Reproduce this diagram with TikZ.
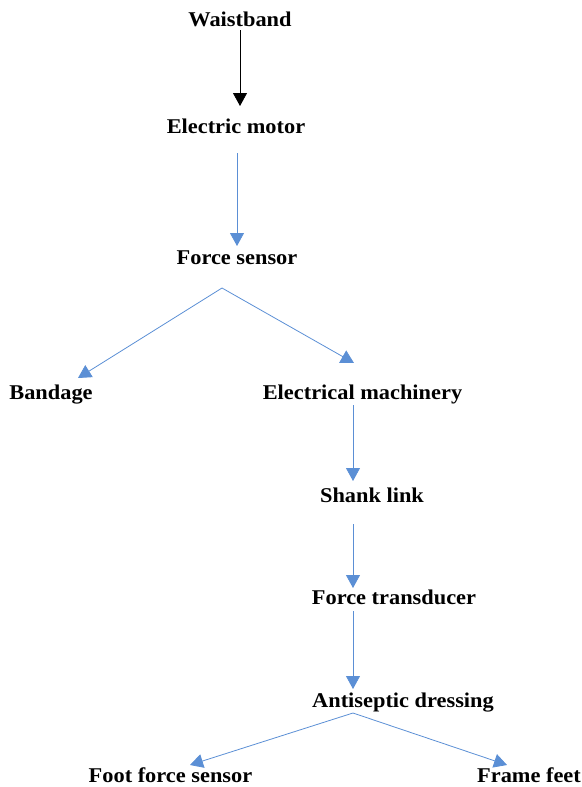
\documentclass[tikz,border=0pt]{standalone}
\usepackage{fontspec}
\setmainfont[FakeStretch=1.065]{Liberation Serif}
\usetikzlibrary{arrows.meta}
\definecolor{lineblue}{RGB}{91,143,213}
\begin{document}
\begin{tikzpicture}[x=1pt,y=-1pt,
  lbl/.style={font=\fontsize{21}{25}\selectfont\bfseries, anchor=base, inner sep=0pt},
  barr/.style={draw=lineblue, line width=0.8pt, -{Triangle[width=14pt,length=13pt]}},
  karr/.style={draw=black, line width=0.8pt, -{Triangle[width=14pt,length=13pt]}}]
\useasboundingbox (0,0) rectangle (581,787);
\node[lbl] (ws)  at (240,27)   {Waistband};
\node[lbl] (em)  at (236,133)  {Electric motor};
\node[lbl] (fs)  at (237,264)  {Force sensor};
\node[lbl] (bd)  at (51,399)   {Bandage};
\node[lbl] (ema) at (362.5,399) {Electrical machinery};
\node[lbl] (sl)  at (372,502)  {Shank link};
\node[lbl] (ft)  at (394,604)  {Force transducer};
\node[lbl] (ad)  at (403,707)  {Antiseptic dressing};
\node[lbl] (ffs) at (170.5,782) {Foot force sensor};
\node[lbl] (ff)  at (529,782)  {Frame feet};

\draw[karr] ([shift={(0,3)}]ws.base) -- ([shift={(4,-27)}]em.base);
\draw[barr] ([shift={(1,20)}]em.base) -- ([shift={(0,-18)}]fs.base);
\draw[barr] ([shift={(-15,24)}]fs.base) -- ([shift={(27,-21)}]bd.base);
\draw[barr] ([shift={(-15,24)}]fs.base) -- ([shift={(-8.5,-36)}]ema.base);
\draw[barr] ([shift={(-9.5,6)}]ema.base) -- ([shift={(-19,-21)}]sl.base);
\draw[barr] ([shift={(-19,22)}]sl.base) -- ([shift={(-41,-16)}]ft.base);
\draw[barr] ([shift={(-41,7)}]ft.base) -- ([shift={(-50,-18)}]ad.base);
\draw[barr] ([shift={(-50,6)}]ad.base) -- ([shift={(19.5,-17)}]ffs.base);
\draw[barr] ([shift={(-50,6)}]ad.base) -- ([shift={(-22,-17)}]ff.base);
\end{tikzpicture}
\end{document}
